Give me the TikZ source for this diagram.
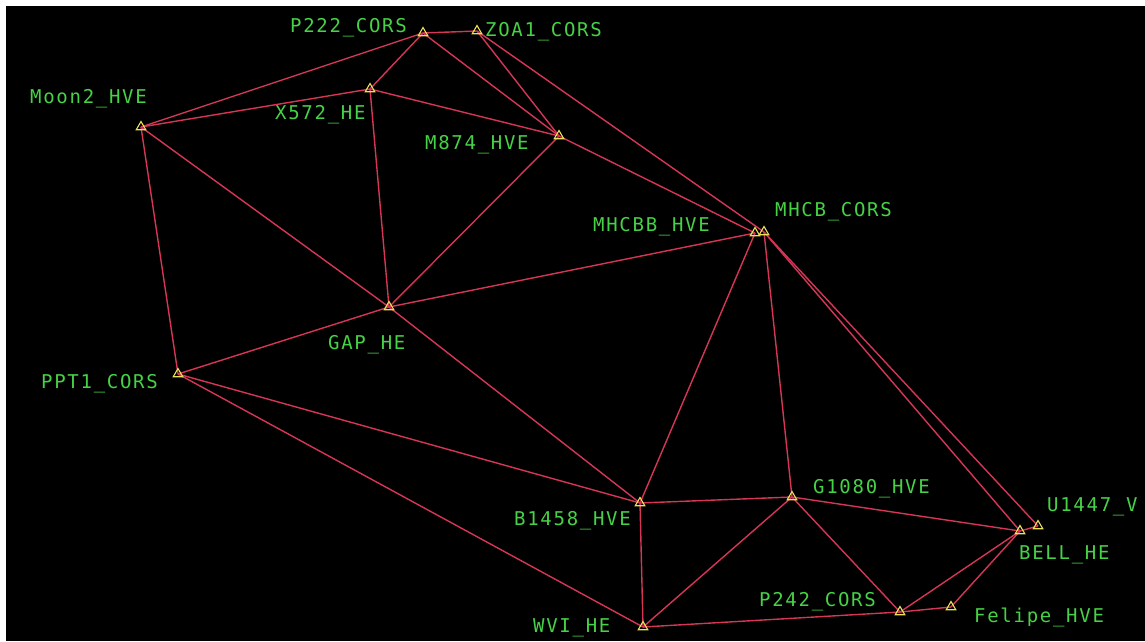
\documentclass[tikz,border=0pt]{standalone}
\usepackage{fontspec}
\usetikzlibrary{shapes.geometric}
\newfontfamily\stafont[LetterSpace=9]{DejaVu Sans Mono}
\definecolor{edgecol}{RGB}{214,54,86}
\definecolor{labgreen}{RGB}{70,210,70}
\definecolor{stayellow}{RGB}{235,225,90}
\pgfdeclarelayer{back}
\pgfdeclarelayer{links}
\pgfsetlayers{back,links,main}
\tikzset{
  link/.style={draw=edgecol, line width=1.4pt},
  station/.style={regular polygon, regular polygon sides=3, minimum size=11pt,
    inner sep=0pt, draw=stayellow, line width=1.1pt},
  lbl/.style={text=labgreen, font=\stafont\fontsize{19}{20}\selectfont,
    anchor=west, inner sep=0pt}
}
\begin{document}
\begin{tikzpicture}[x=1pt,y=-1pt]
\useasboundingbox (0,0) rectangle (1145,641);
\begin{pgfonlayer}{back}
  \fill[white] (0,0) rectangle (1145,641);
  \fill[black] (6,6) rectangle (1145,641);
\end{pgfonlayer}

% stations
\node[station] (P222)   at (423,33)  {};
\node[station] (ZOA1)   at (477,31)  {};
\node[station] (X572)   at (370,89)  {};
\node[station] (M874)   at (559,136) {};
\node[station] (Moon2)  at (141,127) {};
\node[station] (MHCBB)  at (755,233) {};
\node[station] (MHCB)   at (764,232) {};
\node[station] (GAP)    at (389,307) {};
\node[station] (PPT1)   at (178,374) {};
\node[station] (B1458)  at (640,503) {};
\node[station] (G1080)  at (792,497) {};
\node[station] (BELL)   at (1020,531) {};
\node[station] (U1447)  at (1038,526) {};
\node[station] (Felipe) at (951,607) {};
\node[station] (P242)   at (900,612) {};
\node[station] (WVI)    at (643,627) {};

% station names
\node[lbl] (tP222)   at (290,28)  {P222\_CORS};
\node[lbl] (tZOA1)   at (485,32)  {ZOA1\_CORS};
\node[lbl] (tX572)   at (275,115) {X572\_HE};
\node[lbl] (tM874)   at (425,145) {M874\_HVE};
\node[lbl] (tMoon2)  at (30,99)   {Moon2\_HVE};
\node[lbl] (tMHCBB)  at (593,227) {MHCBB\_HVE};
\node[lbl] (tMHCB)   at (775,212) {MHCB\_CORS};
\node[lbl] (tGAP)    at (328,345) {GAP\_HE};
\node[lbl] (tPPT1)   at (41,384)  {PPT1\_CORS};
\node[lbl] (tB1458)  at (514,521) {B1458\_HVE};
\node[lbl] (tG1080)  at (813,489) {G1080\_HVE};
\node[lbl] (tU1447)  at (1047,507) {U1447\_V};
\node[lbl] (tBELL)   at (1019,555) {BELL\_HE};
\node[lbl] (tFelipe) at (974,617) {Felipe\_HVE};
\node[lbl] (tP242)   at (759,602) {P242\_CORS};
\node[lbl] (tWVI)    at (533,628) {WVI\_HE};

% baselines between stations
\begin{pgfonlayer}{links}
\foreach \a/\b in {P222/ZOA1, P222/Moon2, P222/X572, P222/M874,
    ZOA1/M874, ZOA1/MHCB, X572/Moon2, X572/M874, X572/GAP,
    Moon2/GAP, Moon2/PPT1, M874/GAP, M874/MHCBB,
    GAP/MHCBB, GAP/PPT1, GAP/B1458, MHCBB/B1458,
    MHCB/G1080, MHCB/BELL, MHCB/U1447,
    PPT1/B1458, PPT1/WVI, B1458/G1080, B1458/WVI,
    G1080/BELL, G1080/WVI, G1080/P242, WVI/P242,
    P242/Felipe, P242/BELL, Felipe/BELL, BELL/U1447}
  \draw[link] (\a.center) -- (\b.center);
\end{pgfonlayer}
\end{tikzpicture}
\end{document}
